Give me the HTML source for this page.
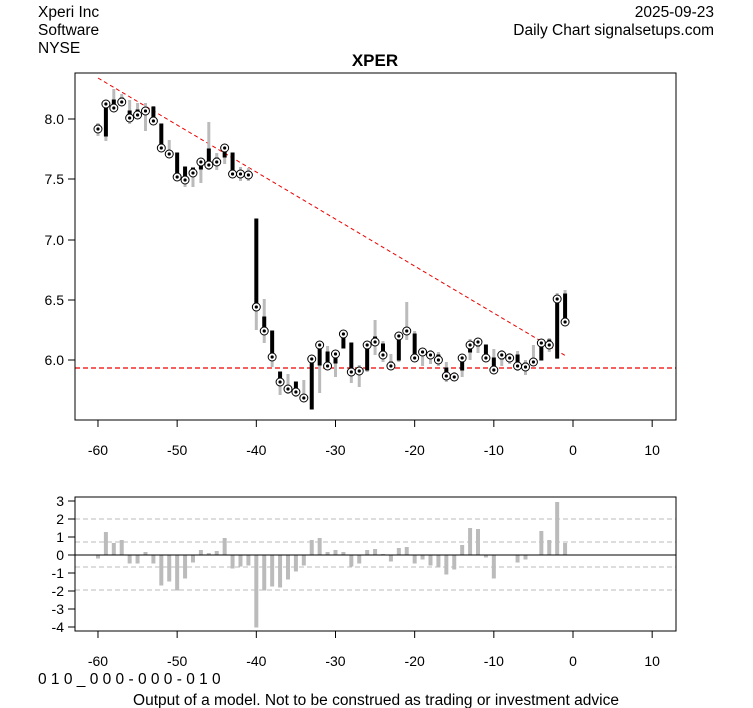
<!DOCTYPE html>
<html><head><meta charset="utf-8"><style>
body{margin:0;background:#fff;}
svg{display:block;font-family:"Liberation Sans",Arial,sans-serif;}
</style></head><body>
<svg id="s" width="753" height="708" xmlns="http://www.w3.org/2000/svg">
<rect width="753" height="708" fill="#fff"/>
<text x="38" y="17" font-size="15.5">Xperi Inc</text>
<text x="38" y="35" font-size="15.5">Software</text>
<text x="38" y="53" font-size="15.5">NYSE</text>
<text x="714" y="17" font-size="15.5" text-anchor="end">2025-09-23</text>
<text x="714" y="35" font-size="15.5" text-anchor="end">Daily Chart signalsetups.com</text>
<text x="375" y="66" font-size="17" font-weight="bold" text-anchor="middle">XPER</text>
<line x1="98" y1="78" x2="566" y2="356" stroke="#e00" stroke-width="1" stroke-dasharray="4,3"/>
<line x1="75" y1="368" x2="676" y2="368" stroke="#e00" stroke-width="1.2" stroke-dasharray="5,3"/>
<g id="main"></g>
<rect x="75" y="73" width="601" height="347" fill="none" stroke="#000"/>
<g font-size="14" text-anchor="end">
<text x="64" y="124">8.0</text><text x="64" y="184">7.5</text><text x="64" y="245">7.0</text><text x="64" y="305">6.5</text><text x="64" y="365">6.0</text>
</g>
<g stroke="#000"><line x1="68" y1="119" x2="75" y2="119"/><line x1="68" y1="179" x2="75" y2="179"/><line x1="68" y1="240" x2="75" y2="240"/><line x1="68" y1="300" x2="75" y2="300"/><line x1="68" y1="360" x2="75" y2="360"/></g>
<g id="xt1"></g>
<g stroke="#bbb" stroke-dasharray="5,3"><line x1="75" y1="519" x2="676" y2="519"/><line x1="75" y1="542" x2="676" y2="542"/><line x1="75" y1="567" x2="676" y2="567"/><line x1="75" y1="590" x2="676" y2="590"/></g>
<g id="low"></g>
<line x1="75" y1="555" x2="676" y2="555" stroke="#000"/>
<rect x="75" y="497" width="601" height="134" fill="none" stroke="#000"/>
<g font-size="14" text-anchor="end">
<text x="64" y="506">3</text><text x="64" y="524">2</text><text x="64" y="542">1</text><text x="64" y="560">0</text><text x="64" y="578">-1</text><text x="64" y="596">-2</text><text x="64" y="614">-3</text><text x="64" y="632">-4</text>
</g>
<g stroke="#000"><line x1="68" y1="501" x2="75" y2="501"/><line x1="68" y1="519" x2="75" y2="519"/><line x1="68" y1="537" x2="75" y2="537"/><line x1="68" y1="555" x2="75" y2="555"/><line x1="68" y1="573" x2="75" y2="573"/><line x1="68" y1="591" x2="75" y2="591"/><line x1="68" y1="609" x2="75" y2="609"/><line x1="68" y1="627" x2="75" y2="627"/></g>
<g id="xt2"></g>
<text x="38" y="684" font-size="15.5">0 1 0 _ 0 0 0 - 0 0 0 - 0 1 0</text>
<text x="376" y="705" font-size="15.5" text-anchor="middle">Output of a model. Not to be construed as trading or investment advice</text>
</svg>
<script>
var NS="http://www.w3.org/2000/svg";
function el(p,t,a,txt){var e=document.createElementNS(NS,t);for(var k in a)e.setAttribute(k,a[k]);if(txt!==undefined)e.textContent=txt;p.appendChild(e);return e;}
var D=[[129,125,131,123,136],[104,104,136,100,141],[108,100,110,89,112],[102,98,103,94,104],[118,111,118,100,124],[115,110,116,103,118],[111,109,112,103,131],[121,107,121,106,124],[148,124,148,124,150],[154,152,154,140,158],[177,153,177,153,179],[180,167,180,167,187],[173,168,176,168,187],[162,159,169,158,183],[165,149,165,122,170],[162,158,165,153,170],[148,148,157,145,164],[174,153,174,153,178],[174,172,175,167,181],[175,172,176,168,181],
[307,219,307,219,330],[331,317,331,299,343],[357,331,357,331,367],[382,372,382,372,395],[389,388,391,374,394],[392,382,392,382,397],[398,397,399,380,400],[359,359,409,357,409],[345,345,365,345,393],[366,352,366,346,370],[354,354,363,354,377],[334,334,348,334,348],[372,343,372,343,383],[371,370,372,365,387],[345,345,370,345,372],[342,337,342,320,355],[355,344,355,341,362],[366,362,366,354,370],[336,336,360,336,362],[331,331,333,302,340],[358,334,358,331,362],[352,350,352,349,366],[355,352,357,350,364],
[360,355,360,352,366],[376,368,376,362,382],[377,374,378,372,380],[358,358,370,358,377],[345,343,352,339,360],[342,341,346,340,353],[358,345,358,345,362],[370,358,370,349,373],[355,353,359,350,366],[358,357,360,353,364],[366,355,366,351,371],[367,363,368,360,375],[362,361,363,345,366],[343,343,360,340,360],[345,340,347,338,352],[299,299,358,293,359],[322,294,322,290,325]];
var L=[558,532,543,540,563,563,552,563,585,581,590,578,562,550,553,551,538,568,566,565,627,590,586,587,579,571,565,540,538,552,550,552,566,563,550,549,554,561,548,547,563,559,565,567,574,569,545,528,529,557,578,555,555,562,559,555,531,540,502,543];
function X(d){return 573+7.917*d;}
var m=document.getElementById("main"),lo=document.getElementById("low");
for(var i=0;i<60;i++){var d=i-60,x=X(d),r=D[i];
el(m,"line",{x1:x,x2:x,y1:r[3],y2:r[4],stroke:"#bbb","stroke-width":3});
el(m,"line",{x1:x,x2:x,y1:r[1]-0.5,y2:r[2]+0.5,stroke:"#000","stroke-width":4});
el(m,"circle",{cx:x,cy:r[0],r:4,fill:"#fff",stroke:"#000","stroke-width":1});
el(m,"circle",{cx:x,cy:r[0],r:1.6,fill:"#000"});
var y=L[i];el(lo,"rect",{x:x-2,y:Math.min(y,555),width:4,height:Math.abs(y-555)+0.5,fill:"#bbb"});}
var t1=document.getElementById("xt1"),t2=document.getElementById("xt2");
[-60,-50,-40,-30,-20,-10,0,10].forEach(function(v){var x=X(v);
el(t1,"line",{x1:x,x2:x,y1:420,y2:427,stroke:"#000"});el(t1,"text",{x:x,y:455,"font-size":14,"text-anchor":"middle"},String(v));
el(t2,"line",{x1:x,x2:x,y1:631,y2:638,stroke:"#000"});el(t2,"text",{x:x,y:666,"font-size":14,"text-anchor":"middle"},String(v));});
</script>
</body></html>
